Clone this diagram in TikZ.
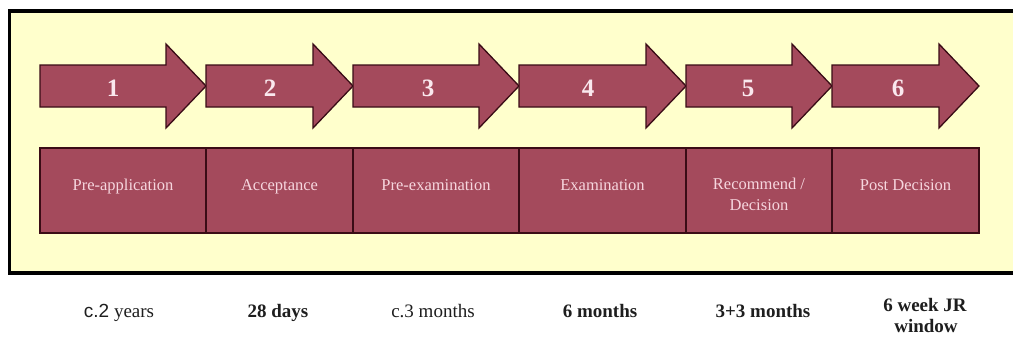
\documentclass[tikz,border=0pt]{standalone}
\usepackage{fontspec}
\setmainfont{Liberation Serif}
\newfontfamily\arialfont{Liberation Sans}
\definecolor{maroon}{RGB}{164,74,92}
\definecolor{darkedge}{RGB}{58,12,22}
\definecolor{paleyellow}{RGB}{255,255,204}
\definecolor{numtext}{RGB}{250,232,238}
\definecolor{labtext}{RGB}{246,214,222}
\definecolor{bottomtext}{RGB}{30,30,30}
\begin{document}
\begin{tikzpicture}[x=1pt,y=-1pt,
  stagearrow/.style={fill=maroon,draw=darkedge,line width=1.3pt,line join=miter},
  stagebox/.style={fill=maroon,draw=darkedge,line width=1.3pt},
  numlabel/.style={font=\fontsize{25}{28}\selectfont\bfseries,text=numtext,inner sep=0pt,anchor=base},
  boxlabel/.style={font=\fontsize{16.5}{21}\selectfont,text=labtext,inner sep=0pt,align=center,anchor=base},
  timelabel/.style={font=\fontsize{19}{24}\selectfont,text=bottomtext,inner sep=0pt,align=center,anchor=base},
  timebold/.style={timelabel,font=\fontsize{19}{24}\selectfont\bfseries}]
\useasboundingbox (0,0) rectangle (1013,338);
\fill[white] (0,0) rectangle (1013,338);
% frame
\fill[paleyellow] (9.5,11) rectangle (1013,273);
\draw[line width=3.5pt,black] (1013,11) -- (9.5,11) -- (9.5,273) -- (1013,273);
% arrows
\foreach \s/\t in {40/206,206/353,353/519,519/686,686/832,832/979}{
  \draw[stagearrow] (\s,65) -- (\t-40,65) -- (\t-40,44) -- (\t,86) -- (\t-40,128) -- (\t-40,107) -- (\s,107) -- cycle;
}
\node[numlabel] (n1) at (113,96) {1};
\node[numlabel] (n2) at (270,96) {2};
\node[numlabel] (n3) at (428,96) {3};
\node[numlabel] (n4) at (588,96) {4};
\node[numlabel] (n5) at (748,96) {5};
\node[numlabel] (n6) at (898,96) {6};
% boxes
\foreach \s/\t in {40/206,206/353,353/519,519/686,686/832,832/979}{
  \draw[stagebox] (\s,148) rectangle (\t,233);
}
\node[boxlabel] (b1) at (123,190) {Pre-application};
\node[boxlabel] (b2) at (279.5,190) {Acceptance};
\node[boxlabel] (b3) at (436,190) {Pre-examination};
\node[boxlabel] (b4) at (602.5,190) {Examination};
\node[boxlabel] (b5) at (759,189) {Recommend /};
\node[boxlabel] (b5b) at (759,210) {Decision};
\node[boxlabel] (b6) at (905.5,190) {Post Decision};
% durations
\node[timelabel] (t1) at (119,317) {{\arialfont c.2} years};
\node[timebold] (t2) at (278,317) {28 days};
\node[timelabel] (t3) at (433,317) {c.3 months};
\node[timebold] (t4) at (600,317) {6 months};
\node[timebold] (t5) at (763,317) {3+3 months};
\node[timebold] (t6) at (925,311) {6 week JR};
\node[timebold] (t6b) at (926,332) {window};
\end{tikzpicture}
\end{document}
